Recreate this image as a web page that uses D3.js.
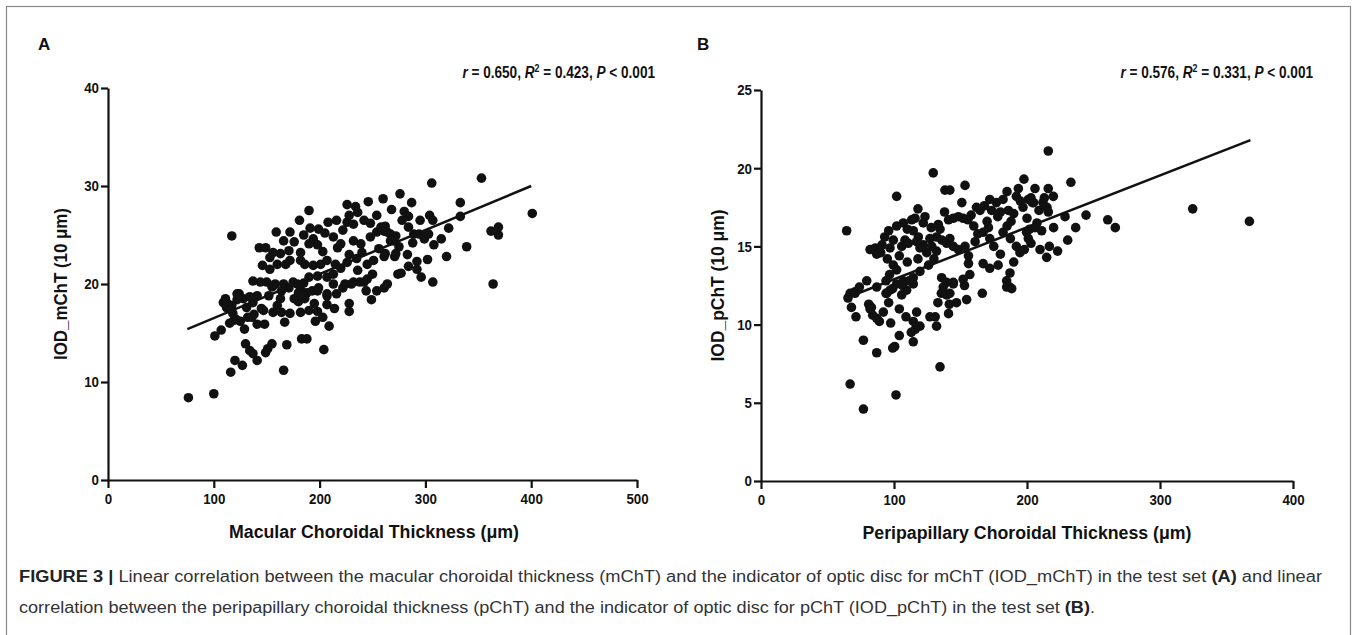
<!DOCTYPE html>
<html>
<head>
<meta charset="utf-8">
<script src="https://cdn.jsdelivr.net/npm/d3@7"></script>
<style>
  body { margin: 0; background: #fff; }
  .tick text { font-family: "Liberation Sans", Arial, sans-serif; font-weight: bold; font-size: 15px; fill: #111; }
  .axis-title { font-family: "Liberation Sans", Arial, sans-serif; font-weight: bold; font-size: 18px; fill: #111; }
  .stat { font-family: "Liberation Sans", Arial, sans-serif; font-weight: bold; font-size: 17px; fill: #111; }
  .panel-letter { font-family: "Liberation Sans", Arial, sans-serif; font-weight: bold; font-size: 17px; fill: #111; }
  .caption { font-family: "Liberation Sans", Arial, sans-serif; font-size: 16px; fill: #333; }
</style>
</head>
<body>
<div id="figure"></div>
<script>
const width = 1357;
const height = 635;

// panel A : macular choroidal thickness vs IOD_mChT
const macularPoints = [
  [76,8.4],[100,8.8],[116,11.0],[120,12.2],[127,11.7],[101,14.7],[107,15.3],[111,18.5],[112,17.6],[117,17.8],
  [124,19.0],[130,13.9],[134,13.2],[137,12.9],[141,12.2],[149,13.0],[151,13.4],[155,13.9],[166,11.2],[169,13.8],
  [183,14.4],[188,14.4],[204,13.3],[209,15.7],[196,16.2],[198,17.2],[190,17.3],[182,17.1],[180,18.2],[167,16.1],
  [164,17.1],[156,17.1],[148,15.9],[141,15.9],[138,16.9],[136,16.6],[129,15.4],[121,16.4],[125,16.2],[119,16.3],
  [131,17.6],[122,18.4],[141,18.8],[160,17.8],[163,18.5],[171,19.6],[182,19.4],[175,20.2],[188,19.1],[199,19.6],
  [207,18.8],[207,17.9],[216,19.0],[228,18.0],[228,17.2],[249,18.4],[264,20.0],[137,18.1],[147,17.3],[155,19.7],
  [158,20.0],[164,19.3],[193,19.3],[185,20.1],[213,20.0],[222,19.6],[230,20.0],[238,20.2],[244,19.3],[254,19.3],
  [261,19.6],[117,24.9],[190,27.5],[226,28.1],[234,27.9],[246,28.4],[260,28.7],[181,26.5],[191,25.7],[199,25.6],
  [208,26.3],[216,26.5],[228,27.0],[226,26.3],[232,26.1],[242,26.5],[254,27.0],[262,25.9],[159,25.3],[172,25.3],
  [166,24.4],[143,23.7],[149,23.7],[156,23.2],[163,23.1],[171,23.4],[182,23.2],[190,24.1],[194,24.6],[213,24.8],
  [217,23.7],[220,24.1],[232,24.4],[239,24.1],[248,24.8],[254,25.3],[267,25.1],[270,24.4],[272,23.1],[262,23.1],
  [274,21.0],[146,21.9],[153,22.7],[153,21.5],[160,22.0],[168,22.0],[172,22.4],[182,22.4],[186,22.0],[194,21.9],
  [201,22.0],[207,22.4],[215,22.0],[226,22.2],[235,22.6],[245,22.0],[251,22.4],[137,20.3],[144,20.2],[150,20.2],
  [156,19.8],[166,20.0],[179,20.0],[190,20.7],[198,20.8],[207,20.7],[213,21.0],[224,20.0],[232,20.2],[242,20.2],
  [245,20.5],[109,18.1],[122,19.0],[128,18.5],[134,18.7],[180,19.1],[198,19.3],[207,19.0],[276,29.2],[287,28.3],
  [306,30.3],[353,30.8],[333,28.3],[280,27.4],[278,26.5],[284,26.9],[284,25.8],[295,26.5],[304,27.0],[307,26.5],
  [333,26.9],[322,25.7],[258,25.8],[261,25.4],[264,25.3],[272,24.9],[267,24.4],[289,25.1],[294,25.1],[298,24.9],
  [303,25.1],[288,24.2],[299,24.6],[308,24.0],[275,23.8],[362,25.4],[369,25.8],[369,25.0],[339,23.8],[261,22.8],
  [271,22.8],[302,22.5],[284,21.8],[292,22.3],[292,21.5],[296,20.7],[277,21.1],[307,20.2],[364,20.0],[401,27.2],
  [113,18.0],[118,17.0],[115,16.0],[132,16.6],[145,17.5],[152,18.8],[176,18.5],[172,17.0],[186,18.5],[195,18.0],
  [203,16.6],[214,17.5],[220,21.6],[236,21.4],[250,21.0],[256,23.6],[240,23.2],[228,23.0],[203,23.3],[198,24.0],
  [176,24.3],[185,25.0],[205,25.2],[248,26.2],[236,27.3],[268,27.6],[222,25.5],[283,23.0],[315,24.6],[320,22.8]
];
const fitA = [[75,15.4],[400,30.0]];
const xTicksA = [0,100,200,300,400,500];
const yTicksA = [0,10,20,30,40];

// panel B : peripapillary choroidal thickness vs IOD_pChT
const peripapillaryPoints = [
  [67,6.2],[77,4.6],[101.5,5.5],[134.6,7.3],[77,9.0],[87,8.2],[99,8.5],[100.5,8.6],[104,9.3],[114.5,8.9],
  [113,9.5],[116,9.7],[119.5,9.9],[114.5,10.2],[109,10.5],[104,11.0],[97.5,10.1],[89,10.2],[87,10.4],[84,10.6],
  [82,11.0],[81,11.3],[83,11.1],[71.4,10.5],[68,11.1],[65.4,11.7],[67,12.0],[70.7,12.0],[117,10.8],[127,10.5],
  [131,10.5],[132,9.9],[133,11.4],[135.6,12.0],[141,10.7],[147,11.4],[154.6,11.6],[141.6,11.3],[139.6,11.9],[137,12.4],
  [144.6,12.7],[153,12.5],[166.4,12.0],[187,12.4],[184.7,12.8],[105.8,11.9],[96,11.4],[94.5,12.0],[97,12.2],[102,12.6],
  [107,12.8],[114.5,12.6],[109.5,12.2],[86,14.9],[87,14.5],[93,15.6],[102,16.3],[107,16.5],[113.3,16.7],[115.8,16.8],
  [123.3,16.9],[122,16.5],[133.3,16.4],[134.6,16.1],[132,15.6],[141,16.7],[144.6,16.8],[148.4,16.9],[152,16.8],[155.6,16.7],
  [151,17.8],[162,17.5],[164.7,17.3],[172,18.0],[173.4,17.3],[177,17.8],[182,18.0],[186,17.3],[190,17.1],[197,17.5],
  [201,18.0],[205,17.8],[209,17.3],[212,17.8],[215,17.5],[114.5,16.0],[118.3,15.6],[122,15.1],[124.6,14.6],[128.4,15.0],
  [132,14.7],[136,15.4],[139.6,15.2],[105.8,15.0],[108.3,15.4],[110.8,15.2],[144.6,15.0],[148.4,14.8],[156,14.4],[153.4,15.0],
  [161,15.3],[167,15.9],[171,16.2],[172,15.5],[182,15.9],[185,16.3],[187.5,15.5],[192,15.0],[194.7,14.6],[199.7,15.9],
  [202,16.1],[207.5,16.5],[211,16.0],[209.8,14.8],[214.8,14.3],[156,13.9],[167,13.9],[172,13.6],[178.3,13.8],[187.2,13.3],
  [184.7,12.4],[188.5,12.3],[157,13.2],[152,12.9],[144.6,12.6],[139.6,12.7],[142,12.0],[99.5,13.8],[102,13.5],[96.7,13.2],
  [94,12.8],[87,12.4],[94,12.0],[99,12.3],[106.5,12.5],[111.5,12.8],[114.5,13.0],[119.5,13.4],[70.7,12.1],[74,12.4],
  [79.5,12.8],[135.8,13.0],[82,14.8],[91,15.1],[97,14.9],[99.5,15.4],[117,15.3],[119.5,14.9],[127,15.5],[142,15.5],
  [216,21.1],[233,19.1],[206,18.7],[216,18.7],[219.8,18.2],[203,18.1],[204,17.8],[213,18.1],[216,17.2],[206,16.2],
  [201,15.5],[203,15.2],[228.6,16.9],[244.4,17.0],[260.7,16.7],[266.4,16.2],[324.6,17.4],[367.2,16.6],[220,16.2],[236.6,16.2],
  [230.6,15.4],[216.8,15.0],[223,14.7],[197.7,19.3],[193.5,18.7],[153.4,18.9],[138.3,18.6],[142,18.6],[129.5,19.7],[102,18.2],
  [64.4,16.0],[158,17.0],[168,17.6],[180,17.2],[192,18.2],[195,17.9],[185,18.5],[178,16.9],[170,16.6],[160,16.3],
  [163,15.8],[175,15.0],[180,14.5],[190,14.0],[198,14.8],[200,16.8],[188,16.6],[90,14.6],[95,14.2],[104,14.4],
  [110,14.0],[118,14.2],[126,13.8],[130,14.2],[92,10.8],[128,16.2],[138,17.2],[118,17.4],[110,16.1],[96,16.0]
];
const fitB = [[64,11.7],[368,21.8]];
const xTicksB = [0,100,200,300,400];
const yTicksB = [0,5,10,15,20,25];

const captionLine1 = "Linear correlation between the macular choroidal thickness (mChT) and the indicator of optic disc for mChT (IOD_mChT) in the test set ";
const captionLine2 = "correlation between the peripapillary choroidal thickness (pChT) and the indicator of optic disc for pChT (IOD_pChT) in the test set ";

const svg = d3.select("#figure")
  .append("svg")
  .attr("width", width)
  .attr("height", height);

// thin frame round the figure
svg.append("rect")
  .attr("x", 6.5).attr("y", 6.5)
  .attr("width", 1344).attr("height", 660)
  .attr("fill", "none")
  .attr("stroke", "#8a8a8a")
  .attr("stroke-width", 1.2);

function drawPanel(cfg) {
  const x = d3.scaleLinear().domain(cfg.xDomain).range(cfg.xRange);
  const y = d3.scaleLinear().domain(cfg.yDomain).range(cfg.yRange);
  const g = svg.append("g");

  // y axis
  const yAxis = g.append("g")
    .attr("transform", "translate(" + cfg.xRange[0] + ",0)")
    .call(d3.axisLeft(y).tickValues(cfg.yTicks).tickSize(7).tickSizeOuter(0).tickPadding(2));
  // x axis
  const xAxis = g.append("g")
    .attr("transform", "translate(0," + cfg.yRange[0] + ")")
    .call(d3.axisBottom(x).tickValues(cfg.xTicks).tickSize(8).tickSizeOuter(0).tickPadding(5));

  [yAxis, xAxis].forEach(function (ax) {
    ax.select(".domain").attr("stroke", "#111").attr("stroke-width", 2.2);
    ax.selectAll(".tick line").attr("stroke", "#111").attr("stroke-width", 2.2);
    // narrow bold digits, like the original figure
    ax.selectAll(".tick text")
      .attr("textLength", function () { return this.textContent.length * 7.4; })
      .attr("lengthAdjust", "spacingAndGlyphs");
  });

  // points
  g.append("g")
    .selectAll("circle")
    .data(cfg.points)
    .enter()
    .append("circle")
    .attr("cx", function (d) { return x(d[0]); })
    .attr("cy", function (d) { return y(d[1]); })
    .attr("r", 4.8)
    .attr("fill", "#111");

  // fitted line
  g.append("line")
    .attr("x1", x(cfg.fit[0][0])).attr("y1", y(cfg.fit[0][1]))
    .attr("x2", x(cfg.fit[1][0])).attr("y2", y(cfg.fit[1][1]))
    .attr("stroke", "#111")
    .attr("stroke-width", 2.5);

  // axis titles
  g.append("text")
    .attr("class", "axis-title")
    .attr("x", cfg.xTitleMid)
    .attr("y", cfg.yRange[0] + 58)
    .attr("text-anchor", "middle")
    .attr("textLength", cfg.xTitleLen)
    .attr("lengthAdjust", "spacingAndGlyphs")
    .text(cfg.xTitle);

  g.append("text")
    .attr("class", "axis-title")
    .attr("transform", "translate(" + cfg.yTitleX + "," + (cfg.yRange[0] + cfg.yRange[1]) / 2 + ") rotate(-90)")
    .attr("text-anchor", "middle")
    .attr("textLength", 152)
    .attr("lengthAdjust", "spacingAndGlyphs")
    .text(cfg.yTitle);

  // panel letter
  g.append("text")
    .attr("class", "panel-letter")
    .attr("x", cfg.letterX)
    .attr("y", 50)
    .text(cfg.letter);

  // statistics line, squeezed horizontally like a condensed face
  const stat = g.append("text")
    .attr("class", "stat")
    .attr("transform", "translate(" + cfg.statRight + ",78) scale(0.8,1)")
    .attr("text-anchor", "end");
  stat.append("tspan").style("font-style", "italic").text("r");
  stat.append("tspan").text(" = " + cfg.stats[0] + ", ");
  stat.append("tspan").style("font-style", "italic").text("R");
  stat.append("tspan").attr("dy", -6).style("font-size", "11px").text("2");
  stat.append("tspan").attr("dy", 6).text(" = " + cfg.stats[1] + ", ");
  stat.append("tspan").style("font-style", "italic").text("P");
  stat.append("tspan").text(" <  " + cfg.stats[2]);
}

drawPanel({
  points: macularPoints, fit: fitA,
  xDomain: [0, 500], xRange: [108, 637], xTicks: xTicksA,
  yDomain: [0, 40], yRange: [480, 88], yTicks: yTicksA,
  xTitle: "Macular Choroidal Thickness (μm)", xTitleMid: 374, xTitleLen: 290,
  yTitle: "IOD_mChT (10 μm)", yTitleX: 67,
  letter: "A", letterX: 38,
  statRight: 655, stats: ["0.650", "0.423", "0.001"]
});

drawPanel({
  points: peripapillaryPoints, fit: fitB,
  xDomain: [0, 400], xRange: [761, 1293], xTicks: xTicksB,
  yDomain: [0, 25], yRange: [481, 90], yTicks: yTicksB,
  xTitle: "Peripapillary Choroidal Thickness (μm)", xTitleMid: 1027, xTitleLen: 329,
  yTitle: "IOD_pChT (10 μm)", yTitleX: 724,
  letter: "B", letterX: 697,
  statRight: 1313, stats: ["0.576", "0.331", "0.001"]
});

// caption
const cap1 = svg.append("text")
  .attr("class", "caption")
  .attr("x", 19).attr("y", 582)
  .attr("textLength", 1303)
  .attr("lengthAdjust", "spacingAndGlyphs");
cap1.append("tspan").style("font-weight", "bold").style("fill", "#222").text("FIGURE 3 | ");
cap1.append("tspan").text(captionLine1);
cap1.append("tspan").style("font-weight", "bold").style("fill", "#222").text("(A)");
cap1.append("tspan").text(" and linear");

const cap2 = svg.append("text")
  .attr("class", "caption")
  .attr("x", 19).attr("y", 613)
  .attr("textLength", 1076)
  .attr("lengthAdjust", "spacingAndGlyphs");
cap2.append("tspan").text(captionLine2);
cap2.append("tspan").style("font-weight", "bold").style("fill", "#222").text("(B)");
cap2.append("tspan").text(".");
</script>
</body>
</html>
